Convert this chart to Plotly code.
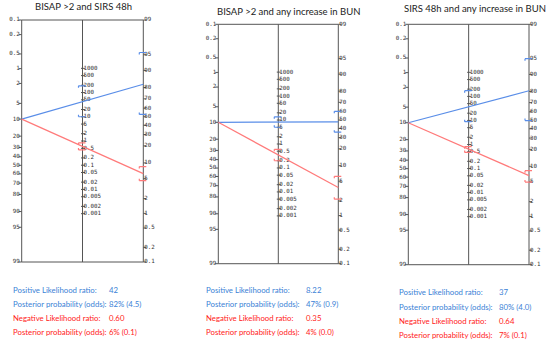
import math
import plotly.graph_objects as go

# ---------------- data ----------------
TITLES = ["BISAP >2 and SIRS 48h", "BISAP >2 and any increase in BUN", "SIRS 48h and any increase in BUN"]
PRIOR = [10, 10, 10]  # pre-test probability, %
LR_POS = [42, 8.22, 37]
LR_POS_CI = [(10, 190), (5.0, 13.6), (8.9, 172)]
LR_NEG = [0.60, 0.35, 0.64]
LR_NEG_CI = [(0.43, 0.84), (0.20, 0.60), (0.47, 0.81)]
LR_POS_TEXT = ["42", "8.22", "37"]
POST_POS_TEXT = ["82% (4.5)", "47% (0.9)", "80% (4.0)"]
LR_NEG_TEXT = ["0.60", "0.35", "0.64"]
POST_NEG_TEXT = ["6% (0.1)", "4% (0.0)", "7% (0.1)"]
PROB_TICKS = [0.1, 0.2, 0.5, 1, 2, 5, 10, 20, 30, 40, 50, 60, 70, 80, 90, 95, 99]
LR_TICKS = [1000, 500, 200, 100, 50, 20, 10, 5, 2, 1, 0.5, 0.2, 0.1, 0.05, 0.02, 0.01, 0.005, 0.002, 0.001]
ROW_LABELS = ["Positive Likelihood ratio:", "Posterior probability (odds):",
              "Negative Likelihood ratio:", "Posterior probability (odds):"]

# ---------------- layout (pixels) ----------------
W, H = 550, 342
PANELS = [(21.7, 143.3, 20.0, 262.0), (218.3, 338.3, 24.3, 263.7), (408.3, 529.0, 24.3, 264.7)]
TITLE_POS = [(83, 6.7), (288, 11), (475, 9)]
TEXT_X = [(11, 107), (204, 304), (397.3, 497.3)]
TEXT_Y = [(290.3, 304, 318.3, 331.7), (290.3, 304, 318.3, 331.7), (291.7, 306.7, 320.7, 335)]

BLUE_LINE = "#5a8ee8"
RED_LINE = "#ff7a7a"
BLUE_TXT = "#3b82d6"
RED_TXT = "#ff2222"
AX = "#555555"
MONO = "DejaVu Sans Mono"
SANS = "Lato"


def logit(p):
    return math.log(p / (1 - p))


U_MIN, U_MAX = logit(0.001), logit(0.99)
U_C = (U_MIN + U_MAX) / 2


def u_left(pct):
    return U_MIN + U_MAX - logit(pct / 100)


def u_right(pct):
    return logit(pct / 100)


def u_mid(lr):
    return U_C + math.log(lr) / 2


def post(prior_pct, lr):
    o = prior_pct / (100 - prior_pct) * lr
    return 100 * o / (1 + o)


fig = go.Figure()
A, B = 0.3, 0.45
layout = {}
annotations = []

for i in range(3):
    XL, XR, YT, YB = PANELS[i]
    sx = (XR - XL) / 2.0
    sy = (YB - YT) / (U_MAX - U_MIN)
    px = 1.0 / sx  # one pixel in x units
    py = 1.0 / sy  # one pixel in y units
    k = "" if i == 0 else str(i + 1)
    xa, ya = "x" + k, "y" + k
    layout["xaxis" + k] = dict(domain=[(XL - A * sx) / W, (XR + A * sx) / W], range=[-A, 2 + A],
                               visible=False, fixedrange=True)
    layout["yaxis" + k] = dict(domain=[1 - (YB + B * sy) / H, 1 - (YT - B * sy) / H],
                               range=[U_MIN - B, U_MAX + B], visible=False, fixedrange=True)

    # frame and middle axis
    fig.add_trace(go.Scatter(x=[0, 0, 2, 2, 0, None, 1, 1], y=[U_MAX, U_MIN, U_MIN, U_MAX, U_MAX, None, U_MIN, U_MAX],
                             mode="lines", line=dict(color=AX, width=1), xaxis=xa, yaxis=ya,
                             hoverinfo="skip", showlegend=False))
    # ticks
    tx, ty = [], []
    for v in PROB_TICKS:
        tx += [-3 * px, 0, None, 2, 2 + 3 * px, None]
        ty += [u_left(v), u_left(v), None, u_right(v), u_right(v), None]
    for v in LR_TICKS:
        tx += [1 - 1.5 * px, 1 + 2.5 * px, None]
        ty += [u_mid(v), u_mid(v), None]
    fig.add_trace(go.Scatter(x=tx, y=ty, mode="lines", line=dict(color=AX, width=1), xaxis=xa, yaxis=ya,
                             hoverinfo="skip", showlegend=False))
    lab = [f"{v:g}" for v in PROB_TICKS]
    fig.add_trace(go.Scatter(x=[-2 * px] * len(PROB_TICKS), y=[u_left(v) for v in PROB_TICKS], text=lab,
                             mode="text", textposition="middle left", cliponaxis=False,
                             textfont=dict(family=MONO, size=5.8, color="#333"), xaxis=xa, yaxis=ya,
                             hoverinfo="skip", showlegend=False))
    fig.add_trace(go.Scatter(x=[2 + 1 * px] * len(PROB_TICKS), y=[u_right(v) for v in PROB_TICKS], text=lab,
                             mode="text", textposition="middle right", cliponaxis=False,
                             textfont=dict(family=MONO, size=5.8, color="#333"), xaxis=xa, yaxis=ya,
                             hoverinfo="skip", showlegend=False))
    fig.add_trace(go.Scatter(x=[1 + 1 * px] * len(LR_TICKS), y=[u_mid(v) for v in LR_TICKS],
                             text=[f"{v:g}" for v in LR_TICKS],
                             mode="text", textposition="middle right", cliponaxis=False,
                             textfont=dict(family=MONO, size=5.8, color="#333"), xaxis=xa, yaxis=ya,
                             hoverinfo="skip", showlegend=False))
    # axis names
    fig.add_trace(go.Scatter(x=[-10 * px, 1 - 10 * px, 2 - 10 * px], y=[U_MIN - 11 * py] * 3,
                             text=["Prior<br>prob.", "Likelihood<br>ratio", "Posterior<br>prob."],
                             mode="text", textposition="middle right", cliponaxis=False,
                             textfont=dict(family=MONO, size=5.2, color="#333"), xaxis=xa, yaxis=ya,
                             hoverinfo="skip", showlegend=False))

    # nomogram lines
    for lr, ci, col in [(LR_POS[i], LR_POS_CI[i], BLUE_LINE), (LR_NEG[i], LR_NEG_CI[i], RED_LINE)]:
        fig.add_trace(go.Scatter(x=[0, 2], y=[u_left(PRIOR[i]), u_right(post(PRIOR[i], lr))],
                                 mode="lines", line=dict(color=col, width=1.2), xaxis=xa, yaxis=ya,
                                 hoverinfo="skip", showlegend=False))
        mx, my = [], []
        lo, hi = ci
        for xc, ulo, uhi in [(1, u_mid(lo), u_mid(hi)),
                             (2, u_right(post(PRIOR[i], lo)), u_right(post(PRIOR[i], hi)))]:
            mx += [xc - 4 * px, xc + 3 * px, None, xc - 4 * px, xc - 4 * px, None,
                   xc - 4 * px, xc + 3 * px, None, xc - 4 * px, xc - 4 * px, None]
            my += [uhi, uhi, None, uhi, uhi - 2 * py, None,
                   ulo, ulo, None, ulo, ulo + 2 * py, None]
        fig.add_trace(go.Scatter(x=mx, y=my, mode="lines", line=dict(color=col, width=1.2), xaxis=xa, yaxis=ya,
                                 hoverinfo="skip", showlegend=False))

    # title
    tx_, ty_ = TITLE_POS[i]
    annotations.append(dict(x=tx_ / W, y=1 - ty_ / H, xref="paper", yref="paper", text=TITLES[i],
                            showarrow=False, xanchor="center", yanchor="middle",
                            font=dict(family=SANS, size=9.5, color="#222")))
    # text block
    vals = [LR_POS_TEXT[i], POST_POS_TEXT[i], LR_NEG_TEXT[i], POST_NEG_TEXT[i]]
    cols = [BLUE_TXT, BLUE_TXT, RED_TXT, RED_TXT]
    for r in range(4):
        yy = 1 - TEXT_Y[i][r] / H
        annotations.append(dict(x=TEXT_X[i][0] / W, y=yy, xref="paper", yref="paper", text=ROW_LABELS[r],
                                showarrow=False, xanchor="left", yanchor="middle",
                                font=dict(family=SANS, size=7.8, color=cols[r])))
        annotations.append(dict(x=TEXT_X[i][1] / W, y=yy, xref="paper", yref="paper", text=vals[r],
                                showarrow=False, xanchor="left", yanchor="middle",
                                font=dict(family=SANS, size=7.8, color=cols[r])))

fig.update_layout(width=W, height=H, margin=dict(l=0, r=0, t=0, b=0), paper_bgcolor="white",
                  plot_bgcolor="white", showlegend=False, annotations=annotations, **layout)
fig.write_html("out.html", config={"displayModeBar": False},
               post_script="document.body.style.margin='0';document.body.style.padding='0';"
                           "document.documentElement.style.overflow='hidden';")
